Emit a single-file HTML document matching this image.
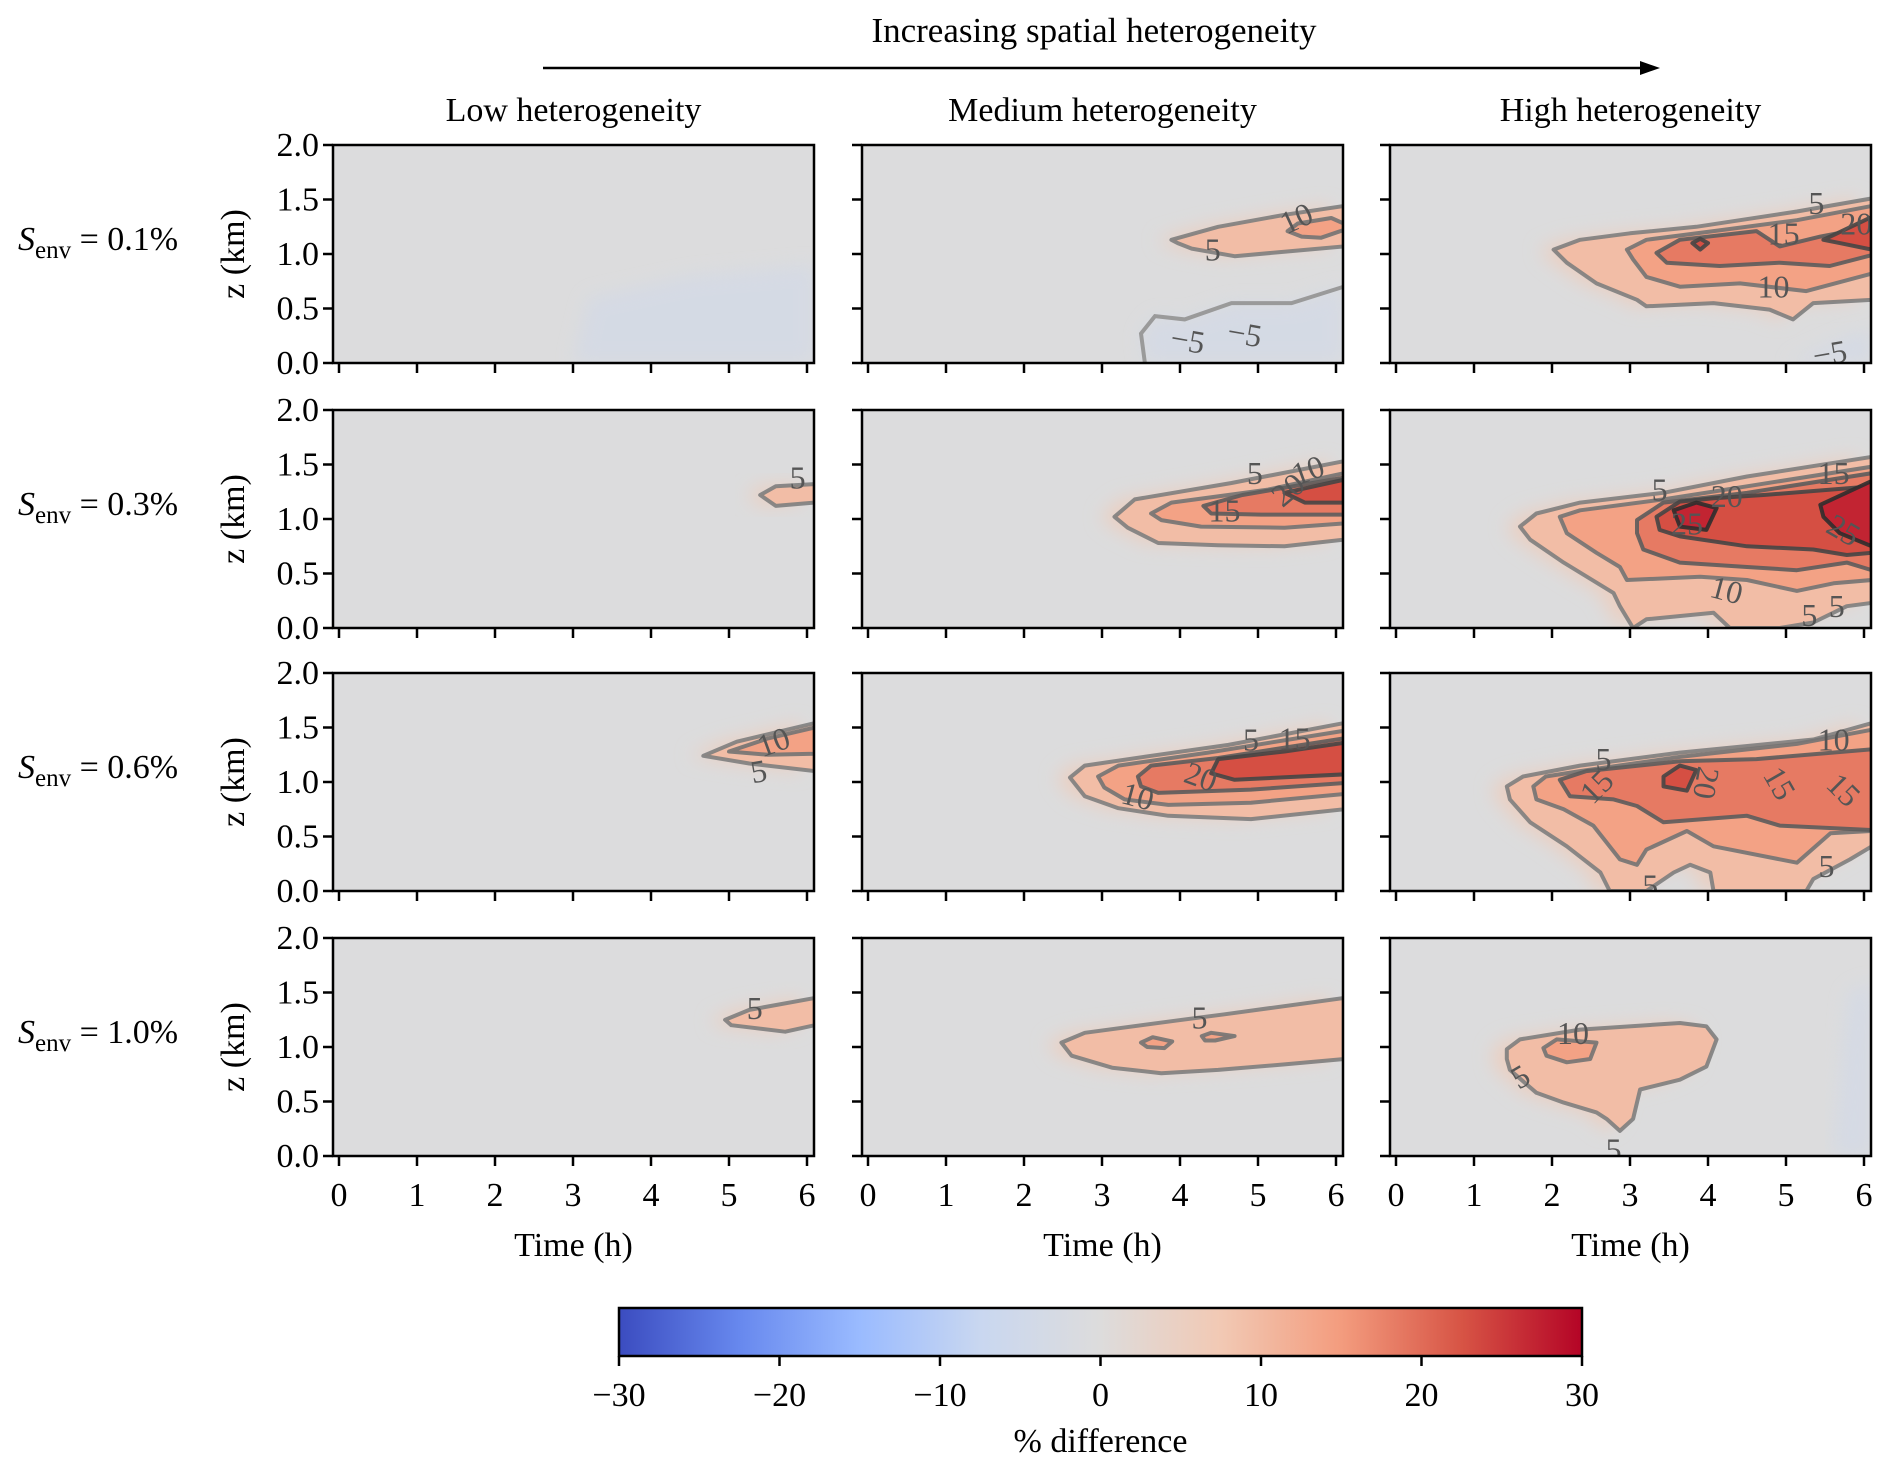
<!DOCTYPE html>
<html><head><meta charset="utf-8"><style>
html,body{margin:0;padding:0;background:#fff;}
svg{display:block;font-family:"Liberation Serif",serif;}
</style></head><body>
<svg id="fig" width="1892" height="1470" viewBox="0 0 1892 1470" xmlns="http://www.w3.org/2000/svg">
<defs>
<filter id="blur" x="-20%" y="-50%" width="140%" height="200%"><feGaussianBlur stdDeviation="9"/></filter>
<linearGradient id="cw" x1="0" x2="1" y1="0" y2="0">
<stop offset="0" stop-color="#3b4cc0"/><stop offset="0.125" stop-color="#6788ee"/><stop offset="0.25" stop-color="#9abbff"/><stop offset="0.375" stop-color="#c9d7f0"/><stop offset="0.5" stop-color="#dddcdc"/><stop offset="0.625" stop-color="#f2c9b4"/><stop offset="0.75" stop-color="#f39c7e"/><stop offset="0.875" stop-color="#d75445"/><stop offset="1" stop-color="#b40426"/>
</linearGradient>
</defs>
<text x="1094" y="42" font-size="35" text-anchor="middle">Increasing spatial heterogeneity</text>
<line x1="543" y1="68" x2="1645" y2="68" stroke="#000" stroke-width="2.5"/>
<polygon points="1660,68 1640,61 1640,75" fill="#000"/>
<g id="panels"></g>
<g id="cbar"></g>
</svg>
<script>
// ---- data ----
const columnTitles = ["Low heterogeneity", "Medium heterogeneity", "High heterogeneity"];
const rowLabels = ["0.1%", "0.3%", "0.6%", "1.0%"];
const xTicks = [0, 1, 2, 3, 4, 5, 6];
const yTicks = [0.0, 0.5, 1.0, 1.5, 2.0];
const cbarTicks = [-30, -20, -10, 0, 10, 20, 30];

// contour polygons [time h, z km] per panel (row r, column c)
const low_r1 = {c5: [], labels: [], blue: [[3.0,0],[3.2,0.6],[4.5,0.8],[6.1,0.9],[6.1,0]]};
const low_r2 = {c5: [[5.4,1.22],[5.6,1.3],[6.1,1.32],[6.1,1.15],[5.6,1.12]], labels: [[5.88,1.38,"5",0]]};
const low_r3 = {c5: [[4.67,1.24],[5.1,1.37],[6.1,1.54],[6.1,1.1],[5.26,1.17]],
  c10: [[5.0,1.28],[5.5,1.4],[6.1,1.5],[6.1,1.26],[5.5,1.25]], labels: [[5.57,1.37,"10",-20],[5.38,1.1,"5",-10]]};
const low_r4 = {c5: [[4.95,1.25],[5.26,1.34],[6.1,1.45],[6.1,1.2],[5.72,1.14],[5.03,1.2]], labels: [[5.33,1.36,"5",0]]};

const med_r1 = {c5: [[3.89,1.13],[4.49,1.25],[5.34,1.36],[6.1,1.44],[6.1,1.07],[4.7,0.98],[4.15,1.05],[3.97,1.1]],
  c10: [[5.38,1.21],[5.51,1.28],[5.94,1.33],[6.1,1.28],[6.1,1.22],[5.81,1.15],[5.56,1.16]],
  blue: [[3.55,0],[3.5,0.27],[3.68,0.43],[4.06,0.4],[4.66,0.55],[5.43,0.55],[6.1,0.7],[6.1,0]],
  labels: [[5.49,1.33,"10",-25],[4.42,1.04,"5",0],[4.83,0.27,"−5",10],[4.1,0.21,"−5",10]]};
const med_r2 = {c5: [[3.16,1.02],[3.42,1.18],[4.66,1.33],[6.1,1.53],[6.1,0.81],[5.34,0.75],[4.49,0.76],[3.72,0.78],[3.33,0.92]],
  c10: [[3.63,1.05],[3.89,1.15],[5.13,1.27],[6.1,1.42],[6.1,0.96],[5.34,0.92],[4.27,0.93],[3.76,0.99]],
  c15: [[4.3,1.12],[4.8,1.22],[6.1,1.38],[6.1,1.04],[5.04,1.04],[4.4,1.05]],
  c20: [[5.34,1.24],[6.1,1.36],[6.1,1.15],[5.6,1.15]],
  labels: [[4.57,1.08,"15",0],[4.96,1.42,"5",0],[5.38,1.27,"20",-40],[5.64,1.45,"10",-20]]};
const med_r3 = {c5: [[2.59,1.04],[2.78,1.15],[3.63,1.24],[4.62,1.34],[6.1,1.54],[6.1,0.75],[4.91,0.66],[3.85,0.69],[3.21,0.76],[2.78,0.87]],
  c10: [[2.95,1.05],[3.21,1.15],[4.36,1.27],[6.1,1.47],[6.1,0.89],[4.91,0.81],[3.85,0.79],[3.29,0.84],[3.03,0.95]],
  c15: [[3.46,1.05],[3.63,1.15],[4.49,1.22],[6.1,1.4],[6.1,0.99],[4.91,0.93],[3.72,0.9],[3.5,0.96]],
  c20: [[4.49,1.21],[5.34,1.28],[6.1,1.36],[6.1,1.07],[4.7,1.02],[4.4,1.08]],
  labels: [[4.27,1.05,"20",20],[4.91,1.39,"5",0],[5.47,1.4,"15",0],[3.46,0.87,"10",15]]};
const med_r4 = {c5: [[2.48,1.04],[2.78,1.13],[3.93,1.24],[4.57,1.3],[6.1,1.45],[6.1,0.89],[5.34,0.84],[4.49,0.79],[3.76,0.76],[3.13,0.81],[2.61,0.92]],
  c10: [[3.5,1.04],[3.65,1.09],[3.9,1.05],[3.8,0.99],[3.58,1.0]],
  c10b: [[4.28,1.1],[4.4,1.13],[4.7,1.1],[4.45,1.06],[4.32,1.06]],
  labels: [[4.25,1.27,"5",0]]};

const high_r1 = {c5: [[2.02,1.04],[2.36,1.13],[3.0,1.19],[3.85,1.25],[5.14,1.39],[6.1,1.51],[6.1,0.58],[5.35,0.55],[5.09,0.4],[4.79,0.49],[4.07,0.55],[3.21,0.52],[3.09,0.58],[2.57,0.73],[2.19,0.92]],
  c10: [[2.96,1.04],[3.21,1.13],[4.07,1.21],[5.14,1.31],[6.1,1.44],[6.1,0.82],[5.26,0.66],[4.41,0.73],[3.64,0.7],[3.21,0.79],[3.04,0.95]],
  c15: [[3.34,1.01],[3.64,1.13],[4.62,1.21],[4.92,1.07],[5.44,1.16],[6.1,1.25],[6.1,0.99],[5.56,0.89],[4.92,0.92],[4.15,0.89],[3.47,0.92]],
  c20: [[5.48,1.13],[6.1,1.34],[6.1,1.04],[5.69,1.1]],
  c20b: [[3.8,1.1],[3.9,1.14],[4.0,1.1],[3.9,1.04]],
  blue: [[5.0,0],[5.8,0.25],[6.1,0.3],[6.1,0]],
  labels: [[5.39,1.47,"5",0],[4.97,1.19,"15",0],[4.84,0.7,"10",0],[5.9,1.28,"20",0],[5.56,0.09,"−5",-10]]};
const high_r2 = {c5: [[1.59,0.93],[1.8,1.05],[2.36,1.15],[3.43,1.24],[4.5,1.39],[6.1,1.57],[6.1,0.23],[5.78,0.2],[5.35,0.05],[4.92,0],[4.28,0],[4.07,0.14],[3.21,0.08],[3.04,0],[2.87,0.2],[2.79,0.32],[2.15,0.6],[1.72,0.81]],
  c10: [[2.1,1.02],[2.36,1.08],[3.43,1.18],[4.5,1.3],[6.1,1.48],[6.1,0.44],[5.61,0.41],[5.14,0.34],[4.5,0.44],[3.9,0.47],[2.96,0.44],[2.87,0.56],[2.57,0.69],[2.19,0.87]],
  c15: [[3.09,0.99],[3.43,1.15],[4.5,1.24],[6.1,1.42],[6.1,0.53],[5.78,0.6],[5.14,0.53],[4.5,0.56],[3.64,0.6],[3.17,0.72],[3.09,0.87]],
  c20: [[3.34,1.02],[3.64,1.16],[4.07,1.19],[4.71,1.22],[6.1,1.3],[6.1,0.69],[5.78,0.67],[5.35,0.72],[4.5,0.75],[3.64,0.84],[3.38,0.9]],
  c25: [[3.56,1.08],[3.85,1.15],[4.11,1.1],[3.98,0.9],[3.64,0.93]],
  c25b: [[5.44,1.13],[6.1,1.35],[6.1,0.75],[5.69,0.87],[5.48,1.02]],
  labels: [[3.38,1.27,"5",0],[4.24,1.21,"20",0],[3.73,0.96,"25",0],[5.74,0.9,"25",30],[5.61,1.42,"15",0],[4.24,0.35,"10",15],[5.3,0.12,"5",0],[5.65,0.2,"5",0]]};
const high_r3 = {c5: [[1.42,0.96],[1.63,1.05],[2.36,1.15],[3.64,1.27],[5.35,1.39],[6.1,1.54],[6.1,0.41],[5.82,0.29],[5.35,0.11],[5.26,0],[4.07,0],[4.03,0.17],[3.77,0.24],[3.56,0.17],[3.21,0],[2.74,0],[2.62,0.17],[2.19,0.41],[1.72,0.63],[1.46,0.84]],
  c10: [[1.76,0.96],[1.92,1.05],[2.36,1.1],[3.64,1.23],[5.14,1.35],[6.1,1.48],[6.1,0.55],[5.57,0.53],[5.14,0.26],[4.07,0.41],[3.73,0.55],[3.21,0.38],[3.09,0.24],[2.87,0.29],[2.53,0.6],[2.15,0.75],[1.8,0.84]],
  c15: [[2.1,1.02],[2.44,1.1],[3.64,1.19],[4.62,1.21],[6.1,1.3],[6.1,0.56],[4.92,0.6],[4.5,0.69],[3.43,0.63],[3.09,0.78],[2.79,0.84],[2.23,0.87]],
  c20: [[3.43,1.05],[3.64,1.15],[3.85,1.11],[3.73,0.92],[3.43,0.96]],
  labels: [[2.66,1.21,"5",0],[2.57,0.96,"15",-45],[4.92,0.99,"15",60],[5.74,0.93,"15",45],[5.61,1.39,"10",0],[3.98,0.99,"20",100],[5.52,0.23,"5",0],[3.26,0.05,"5",0]]};
const high_r4 = {c5: [[1.42,0.98],[1.59,1.07],[2.36,1.16],[3.64,1.22],[3.98,1.19],[4.11,1.07],[3.98,0.82],[3.64,0.7],[3.13,0.61],[3.04,0.34],[2.87,0.23],[2.7,0.34],[2.57,0.4],[2.15,0.49],[1.8,0.58],[1.46,0.79],[1.42,0.89]],
  c10: [[1.89,0.99],[2.06,1.07],[2.57,1.04],[2.49,0.89],[2.19,0.86],[1.93,0.92]],
  blue: [[5.6,0],[5.8,1.5],[6.1,1.6],[6.1,0]],
  labels: [[2.27,1.13,"10",0],[1.59,0.73,"5",-30],[2.79,0.06,"5",0]]};

const panelData = [[low_r1, med_r1, high_r1],[low_r2, med_r2, high_r2],[low_r3, med_r3, high_r3],[low_r4, med_r4, high_r4]];

// ---- layout ----
const colX = [333, 862, 1390], rowY = [145, 410, 673, 938], PW = 481, PH = 218;
const NS = "http://www.w3.org/2000/svg";
function el(tag, attrs, parent){const e=document.createElementNS(NS,tag);for(const k in attrs)e.setAttribute(k,attrs[k]);if(parent)parent.appendChild(e);return e;}
const stops=[[-30,[59,76,192]],[-22.5,[103,136,238]],[-15,[154,187,255]],[-7.5,[201,215,240]],[0,[221,220,220]],[7.5,[242,201,180]],[15,[243,156,126]],[22.5,[215,84,69]],[30,[180,4,38]]];
function cw(v){v=Math.max(-30,Math.min(30,v));for(let i=0;i<stops.length-1;i++){const a=stops[i],b=stops[i+1];if(v<=b[0]){const f=(v-a[0])/(b[0]-a[0]);return "rgb("+a[1].map((x,j)=>Math.round(x+(b[1][j]-x)*f)).join(",")+")";}}return "rgb(180,4,38)";}
const lineCol={c5:"#7e7e7e",c10:"#737373",c10b:"#737373",c15:"#5c5c5c",c20:"#454545",c20b:"#454545",c25:"#2e2e2e",c25b:"#2e2e2e"};
const fillVal={c5:9.5,c10:14,c10b:14,c15:18.5,c20:23,c20b:23,c25:27,c25b:27};
const root=document.getElementById("panels");

for(let r=0;r<4;r++){
  for(let c=0;c<3;c++){
    const x0=colX[c], y0=rowY[r], d=panelData[r][c];
    const sx=t=>x0+6+t*78, sy=z=>y0+PH-z/2*PH;
    const g=el("g",{},root);
    
    
    const cid="clip"+r+c;
    const cp=el("clipPath",{id:cid},g); el("rect",{x:x0,y:y0,width:PW,height:PH},cp);
    const bg=el("rect",{x:x0,y:y0,width:PW,height:PH,fill:"#dcdcdd"},g);
    
    
    const inner=el("g",{"clip-path":"url(#"+cid+")"},g);
    const pts=a=>a.map(p=>sx(p[0]).toFixed(1)+","+sy(p[1]).toFixed(1)).join(" ");
    if(d.blue){const b=el("polygon",{points:pts(d.blue),fill:cw(-5),opacity:0.6,filter:"url(#blur)"},inner);
      
      }
    if(d.c5&&d.c5.length){const h=el("polygon",{points:pts(d.c5),fill:cw(5),filter:"url(#blur)",transform:"translate(-14,0)"},inner);
      
      }
    ["c5","c10","c10b","c15","c20","c20b","c25","c25b"].forEach(k=>{
      if(!d[k]||!d[k].length)return;
      const p=el("polygon",{points:pts(d[k]),fill:cw(fillVal[k]),stroke:lineCol[k],"stroke-width":4,"stroke-linejoin":"round","stroke-opacity":0.9},inner);
      
      
    });
    if(d.blue&&c===1){const nl=el("polyline",{points:pts(d.blue.slice(0,-1)),fill:"none",stroke:"#9a9a9a","stroke-width":4},inner);
      
      }
    (d.labels||[]).forEach(L=>{
      const t=el("text",{x:sx(L[0]),y:sy(L[1])+11,"font-size":32,fill:"#555","text-anchor":"middle",transform:"rotate("+L[3]+" "+sx(L[0])+" "+sy(L[1])+")"},inner);
      t.textContent=L[2];
      
      
    });
    const fr=el("rect",{x:x0,y:y0,width:PW,height:PH,fill:"none",stroke:"#000","stroke-width":2.5},g);
    
    
    xTicks.forEach(t=>{
      const tl=el("line",{x1:sx(t),x2:sx(t),y1:y0+PH,y2:y0+PH+10,stroke:"#000","stroke-width":2.5},g);
      
      
      if(r===3){const tx=el("text",{x:sx(t),y:y0+PH+50,"font-size":34,"text-anchor":"middle"},g);tx.textContent=t;
        
        }
    });
    yTicks.forEach(z=>{
      const tl=el("line",{x1:x0-10,x2:x0,y1:sy(z),y2:sy(z),stroke:"#000","stroke-width":2.5},g);
      
      
      if(c===0){const tx=el("text",{x:x0-14,y:sy(z)+11,"font-size":34,"text-anchor":"end"},g);tx.textContent=z.toFixed(1);
        
        }
    });
    if(r===0){const ct=el("text",{x:x0+PW/2,y:121,"font-size":34,"text-anchor":"middle"},g);ct.textContent=columnTitles[c];
      
      }
    if(r===3){const xl=el("text",{x:x0+PW/2,y:1256,"font-size":34,"text-anchor":"middle"},g);xl.textContent="Time (h)";
      
      }
    if(c===0){
      const cy=y0+PH/2;
      const yl=el("text",{x:0,y:0,"font-size":34,"text-anchor":"middle",transform:"translate(244,"+cy+") rotate(-90)"},g);yl.textContent="z (km)";
      
      
      const rl=el("text",{x:18,y:cy-4,"font-size":34},g);
      
      
      const s=el("tspan",{"font-style":"italic"},rl);s.textContent="S";
      const sub=el("tspan",{"font-size":25,dy:8},rl);sub.textContent="env";
      const rest=el("tspan",{dy:-8},rl);rest.textContent=" = "+rowLabels[r];
    }
  }
}
// colorbar
const cb=document.getElementById("cbar");
const cbX0=619, cbX1=1582, cbY=1308, cbH=48;
const cs=v=>cbX0+(v+30)/60*(cbX1-cbX0);
const cr=el("rect",{x:cbX0,y:cbY,width:cbX1-cbX0,height:cbH,fill:"url(#cw)",stroke:"#000","stroke-width":2.5},cb);


cbarTicks.forEach(v=>{
  const tl=el("line",{x1:cs(v),x2:cs(v),y1:cbY+cbH,y2:cbY+cbH+10,stroke:"#000","stroke-width":2.5},cb);
  
  
  const tx=el("text",{x:cs(v),y:1406,"font-size":34,"text-anchor":"middle"},cb);tx.textContent=(v<0?"−":"")+Math.abs(v);
  
  
});
const cl=el("text",{x:(cbX0+cbX1)/2,y:1452,"font-size":34,"text-anchor":"middle"},cb);cl.textContent="% difference";


</script>
</body></html>
